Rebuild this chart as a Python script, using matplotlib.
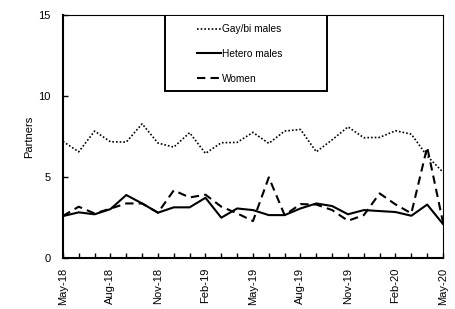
import matplotlib
matplotlib.use("Agg")
import matplotlib.pyplot as plt
import matplotlib.patches as patches
import numpy as np

plt.rcParams['font.family'] = ['Liberation Sans', 'DejaVu Sans']

# monthly values, May-18 .. May-20
gay_bi = [7.2, 6.56, 7.84, 7.18, 7.16, 8.29, 7.1, 6.85, 7.74, 6.46, 7.12, 7.14, 7.76,
          7.08, 7.84, 7.94, 6.56, 7.3, 8.1, 7.43, 7.45, 7.86, 7.65, 6.3, 5.3]
hetero = [2.59, 2.82, 2.7, 3.02, 3.89, 3.37, 2.8, 3.13, 3.13, 3.72, 2.49, 3.06, 2.96,
          2.65, 2.65, 3.06, 3.37, 3.21, 2.7, 2.96, 2.9, 2.84, 2.61, 3.3, 2.1]
women = [2.6, 3.17, 2.75, 3.05, 3.37, 3.37, 2.8, 4.18, 3.74, 3.91, 3.17, 2.76, 2.28,
         4.98, 2.65, 3.33, 3.3, 2.96, 2.3, 2.65, 3.99, 3.31, 2.76, 6.85, 2.2]
tick_labels = ['May-18', 'Aug-18', 'Nov-18', 'Feb-19', 'May-19',
               'Aug-19', 'Nov-19', 'Feb-20', 'May-20']

months = np.arange(len(gay_bi))

fig = plt.figure(figsize=(4.56, 3.09), dpi=100)
ax = fig.add_axes([0.138, 0.165, 0.8335, 0.786])

ax.plot(months, gay_bi, color='black', lw=1.2, linestyle=(0, (1, 1.2)), label='Gay/bi males')
ax.plot(months, hetero, color='black', lw=1.5, label='Hetero males')
ax.plot(months, women, color='black', lw=1.5, linestyle=(0, (4, 2.5)), label='Women')

ax.set_xlim(0, 24)
ax.set_ylim(0, 15)
ax.set_yticks([0, 5, 10, 15])
ax.set_xticks(months[::3])
ax.set_xticklabels(tick_labels, rotation=90)
ax.set_xticks(months, minor=True)
ax.tick_params(axis='x', which='both', direction='in', length=3.5, width=1, pad=7, labelsize=8)
ax.tick_params(axis='y', direction='in', length=3.5, width=1, pad=9, labelsize=8)
ax.set_ylabel('Partners', fontsize=8, labelpad=3)

for s in ['left', 'bottom']:
    ax.spines[s].set_linewidth(1.5)
for s in ['top', 'right']:
    ax.spines[s].set_linewidth(0.8)

# legend box
box = patches.Rectangle((0.268, 0.687), 0.427, 0.313, transform=ax.transAxes,
                        facecolor='white', edgecolor='black', lw=1.4, zorder=5)
ax.add_patch(box)
leg = ax.legend(loc='upper left', bbox_to_anchor=(0.33, 1.0), frameon=False,
                fontsize=7.3, handlelength=2.3, handletextpad=0.1, labelspacing=1.45)
leg.set_zorder(6)

fig.savefig('out.png', dpi=100)
